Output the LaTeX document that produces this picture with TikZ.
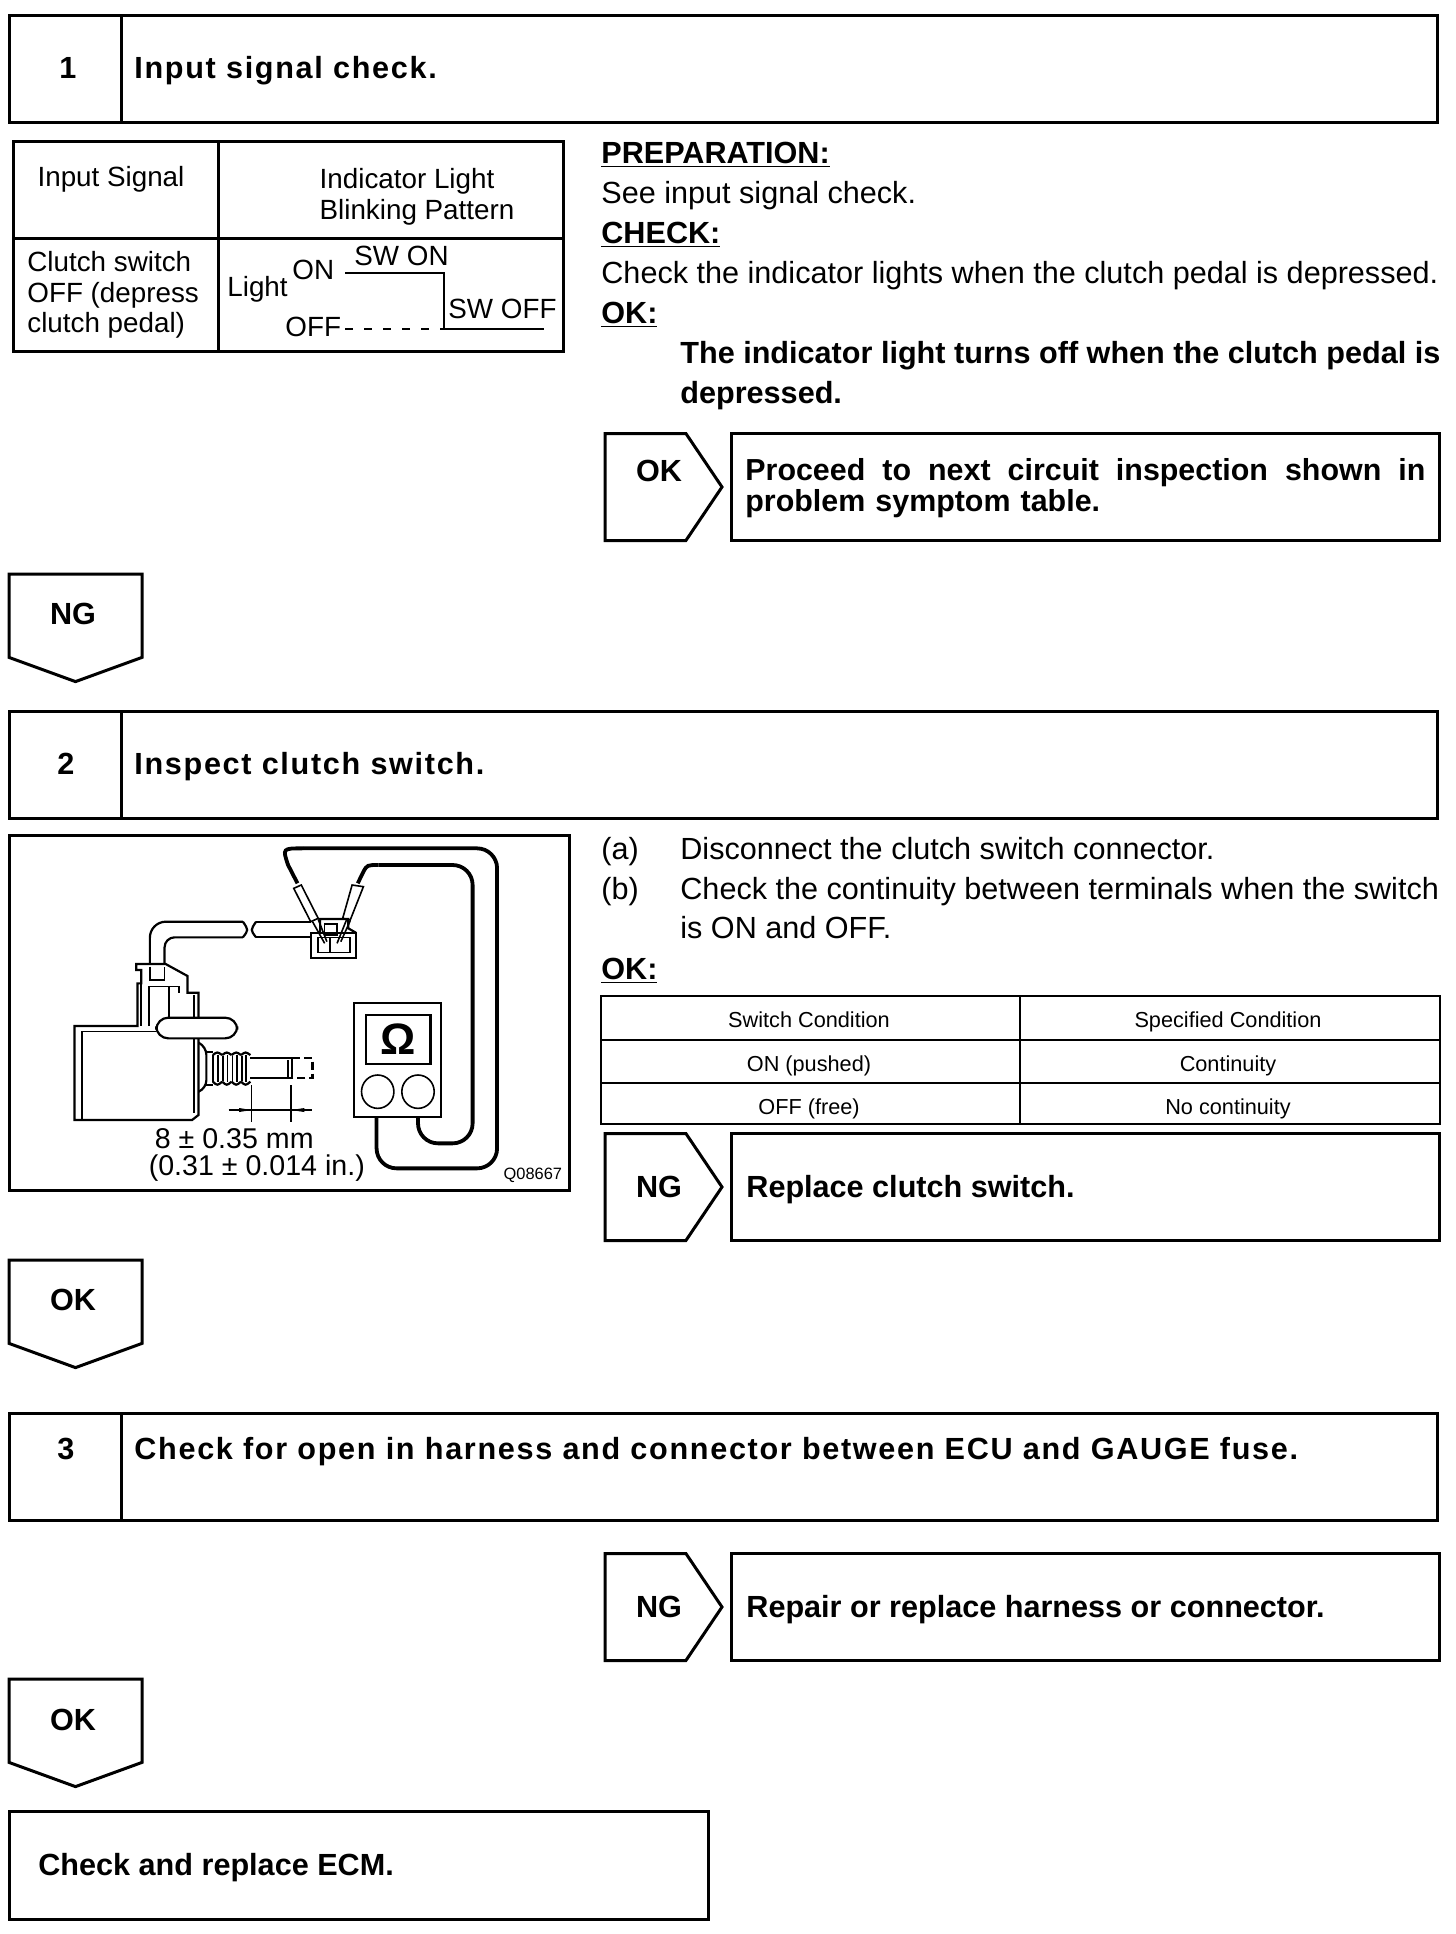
\documentclass[tikz,border=0pt]{standalone}
\usepackage{fontspec}
\setmainfont{Liberation Sans}
\usetikzlibrary{positioning,shapes.symbols}
\newcommand{\bodysize}{\fontsize{15.3}{17}\selectfont}
\newcommand{\titlesize}{\fontsize{15.3}{17}\selectfont\bfseries\addfontfeature{LetterSpace=5.5}}
\newcommand{\tablesize}{\fontsize{13.9}{15}\selectfont}
\newcommand{\cellsize}{\fontsize{10.85}{12}\selectfont}

\begin{document}
\begin{tikzpicture}[x=0.5pt, y=-0.5pt,
  frame/.style={draw, line width=1.5pt, outer sep=0pt},
  numcell/.style={frame, minimum width=56pt, minimum height=53.5pt, inner sep=0pt, anchor=north west},
  titlecell/.style={frame, minimum width=658pt, minimum height=53.5pt, anchor=north west},
  body/.style={font=\bodysize, anchor=base west, inner sep=0pt},
  head/.style={font=\bodysize\bfseries, anchor=base west, inner sep=0pt},
  steptxt/.style={font=\titlesize, anchor=base west, inner sep=0pt},
  tabtxt/.style={font=\tablesize, anchor=base west, inner sep=0pt},
  small/.style={font=\cellsize, anchor=base, inner sep=0pt},
  taglbl/.style={font=\bodysize\bfseries, anchor=base, inner sep=0pt},
  tagright/.style={frame, signal, signal to=east, signal pointer angle=112, minimum width=58.5pt,
                   minimum height=53.5pt, inner sep=0pt, anchor=west},
  tagdown/.style={frame, signal, signal to=south, signal pointer angle=140, minimum width=66.5pt,
                  minimum height=41.7pt, inner sep=0pt, anchor=north},
  resultbox/.style={frame, minimum width=354pt, minimum height=53.5pt, anchor=west},
  wire/.style={line width=1.9pt, rounded corners=10pt},
  part/.style={line width=1.1pt},
  thin part/.style={line width=0.8pt}]
\useasboundingbox (0,0) rectangle (1456,1934);

% --- step 1 ---
\node[numcell] (num1) at (9,15) {};
\node[titlecell] (title1) at (num1.north east) {};
\node[steptxt] (numtxt1) at (59,78) {1};
\node[steptxt] (titletxt1) at (134,78) {Input signal check.};

% --- signal table ---
\draw[frame] (13,141) rectangle (563,351);
\draw[frame] (13,238) -- (563,238);
\draw[frame] (218,141) -- (218,351);
\node[tabtxt, anchor=base] (sighead) at (111,186) {Input Signal};
\node[tabtxt, anchor=base] (lighthead1) at (407,188) {Indicator Light};
\node[tabtxt, anchor=base] (lighthead2) at (417,219) {Blinking Pattern};
\node[tabtxt] (clutch1) at (27,271) {Clutch switch};
\node[tabtxt] (clutch2) at (27,302) {OFF (depress};
\node[tabtxt] (clutch3) at (27,332) {clutch pedal)};
\node[tabtxt] (lightlbl) at (227,296) {Light};
\node[tabtxt] (onlbl) at (292,279) {ON};
\node[tabtxt] (offlbl) at (285,336) {OFF};
\node[tabtxt] (swon) at (354,265) {SW ON};
\node[tabtxt] (swoff) at (448,318) {SW OFF};
\draw[line width=1.1pt] (345,273) -- (444,273) -- (444,329) -- (544,329);
\draw[line width=0.9pt, dash pattern=on 4pt off 5.5pt] (345,329) -- (444,329);

% --- right column, step 1 ---
\node[head] (prep) at (601,163) {\underline{PREPARATION:}};
\node[body] (see) at (601,203) {See input signal check.};
\node[head] (check) at (601,243) {\underline{CHECK:}};
\node[body] (checktxt) at (601,283) {Check the indicator lights when the clutch pedal is depressed.};
\node[head] (ok1) at (601,323) {\underline{OK:}};
\node[head] (oktxt1) at (680,363) {The indicator light turns off when the clutch pedal is};
\node[head] (oktxt2) at (680,403) {depressed.};
\node[tagright] (tagok1) at (605,487) {};
\node[taglbl] (tagoktxt1) at (659,481) {OK};
\node[resultbox] (proceed) at (731,487) {};
\node[head, anchor=north west, text width=340pt, align=left, font=\fontsize{15.2}{15.5}\selectfont\bfseries]
  (proceedtxt) at (745,458) {\makebox[340pt][s]{\spaceskip=.28em plus 1em Proceed to next circuit inspection shown in}\\problem symptom table.};
\node[tagdown] (tagng1) at (75.5,574) {};
\node[taglbl] (tagngtxt1) at (73,624) {NG};

% --- step 2 ---
\node[numcell] (num2) at (9,711) {};
\node[titlecell] (title2) at (num2.north east) {};
\node[steptxt] (numtxt2) at (57,774) {2};
\node[steptxt] (titletxt2) at (134,774) {Inspect clutch switch.};

% --- switch illustration ---
\draw[frame] (9,835) rectangle (569,1190);
\begin{scope}[shift={(0,820)}, x=0.1883pt, y=-0.16667pt]
  % meter leads
  \draw[line width=1.9pt] (790,190) -- (765,135) .. controls (750,85) .. (805,85);
  \draw[wire] (805,85) -- (1320,85) -- (1320,1045) -- (1000,1045) -- (1000,890);
  \draw[line width=1.9pt] (950,190) -- (965,155) .. controls (975,135) .. (1005,135);
  \draw[wire] (1005,135) -- (1255,135) -- (1255,970) -- (1110,970) -- (1110,890);
  % probes
  \draw[thin part, fill=white] (780,205) -- (800,195) -- (845,295) -- (825,305) -- cycle;
  \draw[thin part, fill=white] (935,195) -- (965,200) -- (930,300) -- (910,295) -- cycle;
  \draw[thin part] (830,305) -- (862,370) (845,298) -- (868,365) (920,300) -- (895,370) (930,302) -- (905,365);
  % connector
  \draw[part] (825,338) rectangle (945,415);
  \draw[thin part] (845,352) rectangle (875,398) (878,352) rectangle (930,398);
  \draw[part] (850,338) -- (850,297) -- (925,297) -- (925,325) -- (945,338);
  \draw[thin part] (862,312) rectangle (895,345);
  % cable
  \draw[part, rounded corners=8pt] (645,305) -- (398,305) -- (398,430);
  \draw[part, rounded corners=5pt] (645,352) -- (437,352) -- (437,430);
  \draw[part] (645,305) .. controls (660,330) .. (645,352);
  \draw[part] (680,305) .. controls (665,330) .. (680,352);
  \draw[part] (680,305) -- (825,305) (680,352) -- (825,352);
  % switch body
  \draw[part] (362,432) -- (440,432) -- (498,468) -- (498,518) -- (527,518) -- (527,885) -- (510,900) -- (198,900) -- (198,618) -- (365,618) -- (365,490) -- (375,490) -- (375,450) -- (362,450) -- cycle;
  \draw[thin part] (218,900) -- (218,635) -- (415,635) (375,490) -- (375,618) (395,618) -- (395,500) -- (475,500) -- (475,518) (448,500) -- (448,595) (515,525) -- (515,595) (515,655) -- (515,880);
  \draw[thin part] (398,440) -- (398,480) -- (437,480) -- (437,440);
  \draw[part, rounded corners=6pt, fill=white] (415,593) rectangle (630,655);
  \draw[part, rounded corners=4pt] (527,668) -- (548,680) -- (548,805) -- (527,815);
  \draw[part] (548,695) -- (565,695) (548,795) -- (565,795);
  \foreach \x in {565,590,615,640} {
    \draw[part] (\x,705) .. controls (\x+12,695) .. (\x+25,705)
                (\x,785) .. controls (\x+12,797) .. (\x+25,785);
    \draw[thin part] (\x+2,708) -- (\x+2,782) (\x+14,705) -- (\x+14,785);
  }
  \draw[part] (565,705) -- (565,785) (665,715) -- (775,715) (665,775) -- (775,775) (765,720) -- (765,775) (775,715) -- (775,775);
  \draw[part, dash pattern=on 4pt off 2pt] (775,715) -- (830,715) -- (830,775) -- (775,775);
  % dimension
  \draw[thin part] (668,795) -- (668,905) (773,795) -- (773,905) (607,870) -- (828,870);
  \fill (635,864) -- (668,870) -- (635,876) -- cycle (773,870) -- (808,864) -- (808,876) -- cycle;
  % meter
  \draw[part, fill=white] (940,550) rectangle (1172,890);
  \draw[part] (972,585) rectangle (1143,733);
  \draw[thin part] (1003,815) circle [x radius=43, y radius=50];
  \draw[thin part] (1110,815) circle [x radius=43, y radius=50];
  \node[font=\fontsize{22}{24}\selectfont\bfseries, inner sep=0pt] (omega) at (1058,658) {Ω};
  \node[font=\fontsize{14.3}{15}\selectfont, inner sep=0pt] (dim1) at (622,955) {8 ± 0.35 mm};
  \node[font=\fontsize{14.3}{15}\selectfont, inner sep=0pt] (dim2) at (682,1043) {(0.31 ± 0.014 in.)};
  \node[font=\fontsize{8.2}{9}\selectfont, inner sep=0pt] (partno) at (1415,1065) {Q08667};
\end{scope}

% --- right column, step 2 ---
\node[body] (ma) at (601,859) {(a)};
\node[body] (mb) at (601,899) {(b)};
\node[body] (atxt) at (680,859) {Disconnect the clutch switch connector.};
\node[body] (btxt1) at (680,899) {Check the continuity between terminals when the switch};
\node[body] (btxt2) at (680,938) {is ON and OFF.};
\node[head] (ok2) at (601,979) {\underline{OK:}};
\draw[part] (601,996) rectangle (1440,1124);
\draw[part] (601,1040) -- (1440,1040) (601,1083) -- (1440,1083) (1020,996) -- (1020,1124);
\node[small] (spec1) at (809,1027) {Switch Condition};
\node[small] (spec2) at (1228,1027) {Specified Condition};
\node[small] (spec3) at (809,1071) {ON (pushed)};
\node[small] (spec4) at (1228,1071) {Continuity};
\node[small] (spec5) at (809,1114) {OFF (free)};
\node[small] (spec6) at (1228,1114) {No continuity};
\node[tagright] (tagng2) at (605,1187) {};
\node[taglbl] (tagngtxt2) at (659,1197) {NG};
\node[resultbox] (replace) at (731,1187) {};
\node[head] (replacetxt) at (746,1197) {Replace clutch switch.};
\node[tagdown] (tagok2) at (75.5,1260) {};
\node[taglbl] (tagoktxt2) at (73,1310) {OK};

% --- step 3 ---
\node[numcell] (num3) at (9,1413) {};
\node[titlecell] (title3) at (num3.north east) {};
\node[steptxt] (numtxt3) at (57,1459) {3};
\node[steptxt] (titletxt3) at (134,1459) {Check for open in harness and connector between ECU and GAUGE fuse.};
\node[tagright] (tagng3) at (605,1607) {};
\node[taglbl] (tagngtxt3) at (659,1617) {NG};
\node[resultbox] (repair) at (731,1607) {};
\node[head] (repairtxt) at (746,1617) {Repair or replace harness or connector.};
\node[tagdown] (tagok3) at (75.5,1679) {};
\node[taglbl] (tagoktxt3) at (73,1730) {OK};

% --- last step ---
\node[frame, minimum width=349.5pt, minimum height=54pt, anchor=north west] (ecm) at (9,1811) {};
\node[head] (ecmtxt) at (38,1875) {Check and replace ECM.};
\end{tikzpicture}
\end{document}
